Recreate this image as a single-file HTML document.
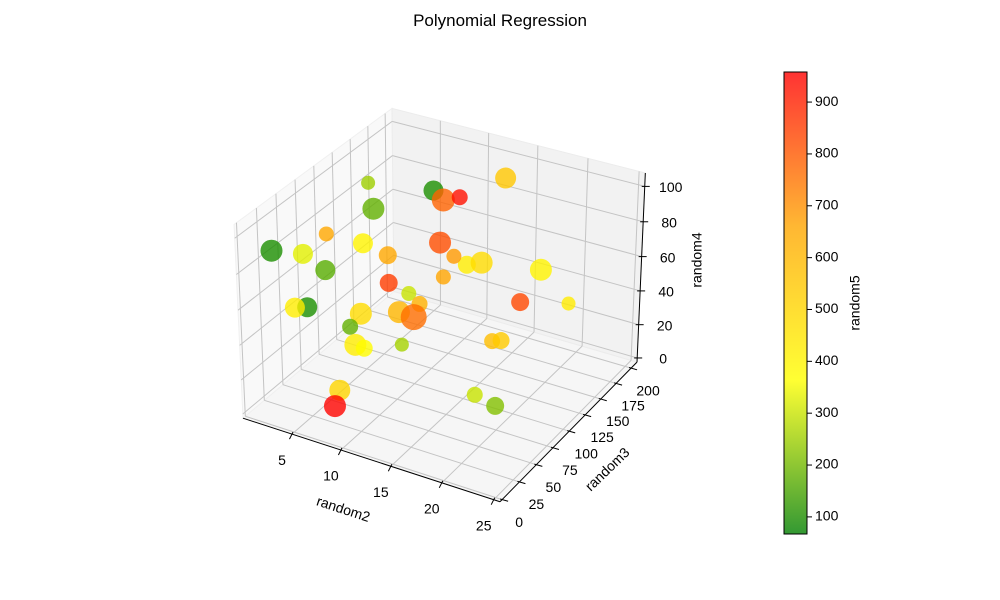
<!DOCTYPE html>
<html><head><meta charset="utf-8"><title>Polynomial Regression</title>
<style>
html,body{margin:0;padding:0;background:#fff;}
svg{display:block;font-family:"Liberation Sans","DejaVu Sans",sans-serif;}
</style></head>
<body>
<svg id="chart" width="1000" height="600" viewBox="0 0 1000 600" xmlns="http://www.w3.org/2000/svg">
<defs>
<linearGradient id="cbgrad" x1="0" y1="1" x2="0" y2="0">
<stop offset="0" stop-color="#339933"/>
<stop offset="0.3333" stop-color="#ffff33"/>
<stop offset="0.6667" stop-color="#ffb733"/>
<stop offset="1" stop-color="#ff3333"/>
</linearGradient>
</defs>
<text x="500" y="26" text-anchor="middle" font-size="17" fill="#000">Polynomial Regression</text>
<g id="panes"></g>
<g id="grid"></g>
<g id="axes"></g>
<g id="points"></g>
<text x="343" y="510" text-anchor="middle" dominant-baseline="middle" font-size="14" transform="rotate(18 343 510)">random2</text>
<text x="608" y="470" text-anchor="middle" dominant-baseline="middle" font-size="14" transform="rotate(-44 608 470)">random3</text>
<text x="698" y="260" text-anchor="middle" dominant-baseline="middle" font-size="14" transform="rotate(-90 698 260)">random4</text>
<g id="colorbar">
<rect x="784" y="72" width="23" height="462" fill="url(#cbgrad)" stroke="#000" stroke-width="1"/>
<text x="856" y="303" text-anchor="middle" dominant-baseline="middle" font-size="14" transform="rotate(-90 856 303)">random5</text>
</g>
</svg>
<script>
const xs=[2.57,3.83,7.54,8.90,10.23,13.2,3.09,4.56,2.64,3.80,4.46,5.63,9.61,11.03,12.01,13.18,17.87,9.95,6.43,7.78,8.89,8.19,9.71,16.48,20.1,3.20,3.27,5.72,5.34,6.61,7.52,9.19,14.99,15.90,7.20,7.83,18.64,20.65];
const ys=[138.5,128.5,163.5,158.5,163.5,188.5,73.5,103.5,8.5,33.5,53.5,123.5,143.5,143.5,148.5,153.5,173.5,143.5,113.5,123.5,123.5,103.5,103.5,163.5,183.5,28.5,43.5,83.5,73.5,63.5,63.5,93.5,143.5,143.5,33.5,18.5,63.5,63.5];
const zs=[90.0,80.2,85.2,83.4,85.4,93.0,82.4,69.6,93.7,85.5,70.8,57.8,64.8,59.1,54.1,55.5,52.2,45.3,46.3,38.9,34.6,35.6,35.2,34.4,32.6,56.0,51.1,37.5,32.8,27.9,27.5,21.7,15.8,17.7,13.4,10.9,20.0,17.2];
const sizes=[102,251,208,275,133,229,117,208,251,208,208,168,251,117,168,251,251,117,168,117,133,251,351,168,102,208,208,251,133,251,150,102,133,150,229,251,133,168];
const cvals=[250,180,100,780,930,550,650,400,100,330,170,650,820,680,420,480,400,660,850,300,620,600,760,830,430,420,100,480,180,420,370,260,580,540,500,950,300,220];
const xTicks=[5,10,15,20,25];
const yTicks=[0,25,50,75,100,125,150,175,200];
const zTicks=[0,20,40,60,80,100];
const cbTicks=[100,200,300,400,500,600,700,800,900];
const xLim=[-0.1,25.6], yLim=[-3,210], zLim=[-2.5,107.5];
const cLim=[67,958];

const NS="http://www.w3.org/2000/svg";
function mk(tag,attrs,parent){const e=document.createElementNS(NS,tag);for(const k in attrs)e.setAttribute(k,attrs[k]);parent.appendChild(e);return e;}
const BX=1.1429,BY=1.1429,BZ=0.8572,S=2577,CX=443.5,CY=296;
function world(x,y,z){
  const X=((x-xLim[0])/(xLim[1]-xLim[0])-0.5)*BX;
  const Y=((y-yLim[0])/(yLim[1]-yLim[0])-0.5)*BY;
  const Z=((z-zLim[0])/(zLim[1]-zLim[0])-0.5)*BZ;
  const u=0.8660*X+0.5*Y, v=-0.25*X+0.4330*Y+0.8660*Z, w=0.4330*X-0.75*Y+0.5*Z;
  const d=10-w;
  return [CX+S*u/d, CY-S*v/d, d];
}
function P(x,y,z){const r=world(x,y,z);return r[0].toFixed(2)+","+r[1].toFixed(2);}
function cmap(v){
  let t=(v-cLim[0])/(cLim[1]-cLim[0]);t=Math.max(0,Math.min(1,t));
  const st=[[0,[0,128,0]],[1/3,[255,255,0]],[2/3,[255,165,0]],[1,[255,0,0]]];
  for(let i=0;i<3;i++){if(t<=st[i+1][0]){const f=(t-st[i][0])/(st[i+1][0]-st[i][0]);const a=st[i][1],b=st[i+1][1];return "rgb("+a.map((c,k)=>Math.round(c+(b[k]-c)*f)).join(",")+")";}}
  return "rgb(255,0,0)";
}
const panes=document.getElementById('panes'),grid=document.getElementById('grid'),axes=document.getElementById('axes'),pts=document.getElementById('points'),cb=document.getElementById('colorbar');
const [x0,x1]=xLim,[y0,y1]=yLim,[z0,z1]=zLim;
let pe=mk('polygon',{points:[P(x0,y0,z0),P(x1,y0,z0),P(x1,y1,z0),P(x0,y1,z0)].join(' '),fill:'#f6f6f6',stroke:'#f0f0f0'},panes);


pe=mk('polygon',{points:[P(x0,y0,z0),P(x0,y1,z0),P(x0,y1,z1),P(x0,y0,z1)].join(' '),fill:'#f9f9f9',stroke:'#f0f0f0'},panes);


pe=mk('polygon',{points:[P(x0,y1,z0),P(x1,y1,z0),P(x1,y1,z1),P(x0,y1,z1)].join(' '),fill:'#f2f2f2',stroke:'#ececec'},panes);


function gl(a,b){const l=mk('line',{x1:a[0],y1:a[1],x2:b[0],y2:b[1],stroke:'#c4c4c4','stroke-width':1},grid);

}
xTicks.forEach(x=>{gl(world(x,y0,z0),world(x,y1,z0));gl(world(x,y1,z0),world(x,y1,z1));});
yTicks.forEach(y=>{gl(world(x0,y,z0),world(x1,y,z0));gl(world(x0,y,z0),world(x0,y,z1));});
zTicks.forEach(z=>{gl(world(x0,y0,z),world(x0,y1,z));gl(world(x0,y1,z),world(x1,y1,z));});
function al(a,b,name){const l=mk('line',{x1:a[0],y1:a[1],x2:b[0],y2:b[1],stroke:'#000','stroke-width':1},axes);

}
al(world(x0,y0,z0),world(x1,y0,z0),'x-axis-line');
al(world(x1,y0,z0),world(x1,y1,z0),'y-axis-line');
al(world(x1,y1,z0),world(x1,y1,z1),'z-axis-line');
function tick(p,dx1,dy1,dx2,dy2,lx,ly,txt,name){
  const l=mk('line',{x1:p[0]+dx1,y1:p[1]+dy1,x2:p[0]+dx2,y2:p[1]+dy2,stroke:'#000','stroke-width':1},axes);
  
  
  const t=mk('text',{x:p[0]+lx,y:p[1]+ly,'text-anchor':'middle','dominant-baseline':'middle','font-size':14,fill:'#000'},axes);
  t.textContent=txt;
  
  
}
xTicks.forEach(x=>tick(world(x,y0,z0),1,-2,-2.5,5,-10,27,x,'x-axis'));
yTicks.forEach(y=>tick(world(x1,y,z0),-2,-0.6,6,1.7,17,23.5,y,'y-axis'));
zTicks.forEach(z=>tick(world(x1,y1,z),-3,0,5,0,26,2,z,'z-axis'));
const order=xs.map((_,i)=>i).sort((a,b)=>world(xs[b],ys[b],zs[b])[2]-world(xs[a],ys[a],zs[a])[2]);
order.forEach(i=>{
  const p=world(xs[i],ys[i],zs[i]);
  const c=mk('circle',{cx:p[0].toFixed(2),cy:p[1].toFixed(2),r:(0.694*Math.sqrt(sizes[i])).toFixed(2),fill:cmap(cvals[i]),'fill-opacity':0.8},pts);
  
  
});
cbTicks.forEach(v=>{
  const y=534-(v-cLim[0])/(cLim[1]-cLim[0])*462;
  const l=mk('line',{x1:807,y1:y,x2:812,y2:y,stroke:'#000','stroke-width':1},cb);
  
  
  const t=mk('text',{x:815,y:y,'dominant-baseline':'middle','font-size':14,fill:'#000'},cb);
  t.textContent=v;
  
  
});
</script>
</body></html>
